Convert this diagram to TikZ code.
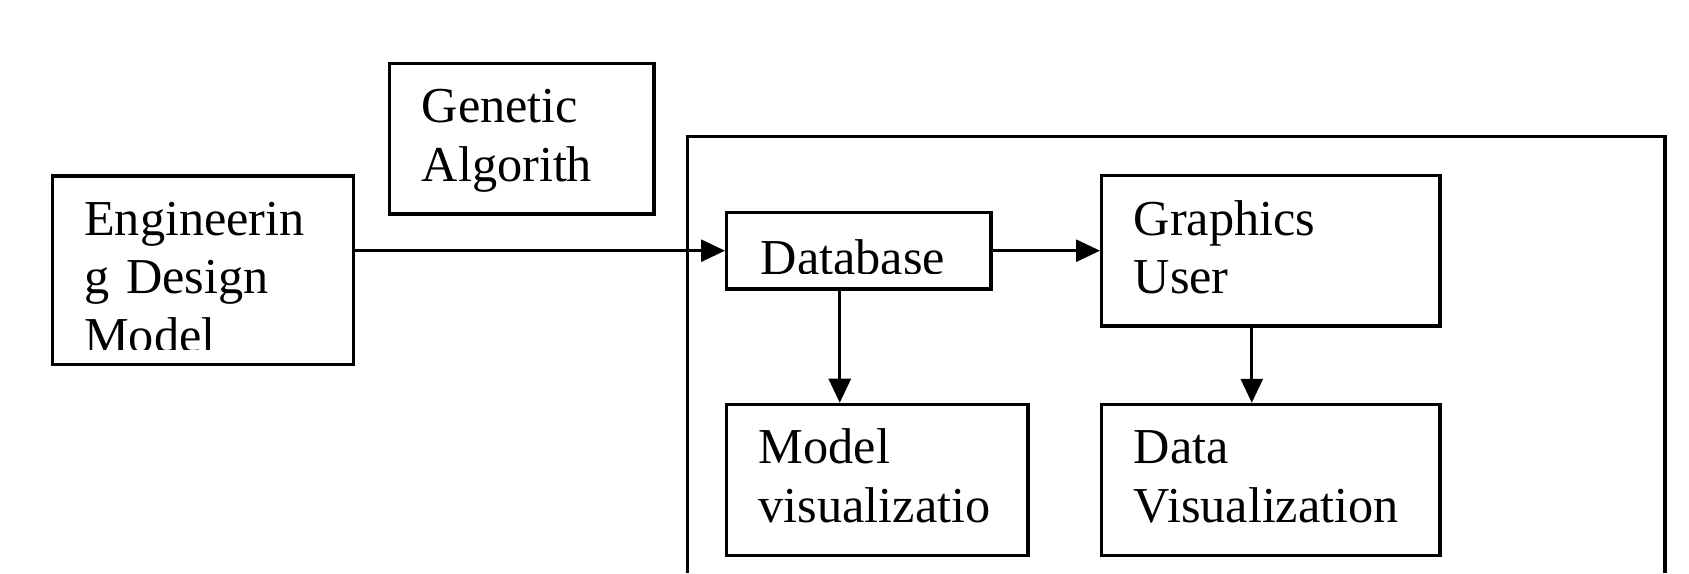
\documentclass[tikz,border=0pt]{standalone}
\usepackage{fontspec}
\setmainfont{Liberation Serif}
\usetikzlibrary{arrows.meta, positioning, calc}

\begin{document}
\begin{tikzpicture}[
    x=0.01cm, y=-0.01cm,
    box/.style={draw, line width=0.95pt, inner sep=0pt, anchor=north west},
    txt/.style={inner sep=0pt, anchor=base west, text width=3.2cm, align=left,
        font=\fontsize{14.3pt}{16.6pt}\selectfont},
    arr/.style={-{Triangle[length=2.4mm, width=2.2mm]}, line width=0.8pt},
]
    \useasboundingbox (0,0) rectangle (1689,573);

    \node[box, minimum width=3.01cm, minimum height=1.884cm] (eng) at (50.5,174.3) {};
    \node[box, minimum width=2.64cm, minimum height=1.506cm] (gen) at (388,61.7) {};
    \node[box, minimum width=2.64cm, minimum height=0.766cm] (db) at (725,210.7) {};
    \node[box, minimum width=3.38cm, minimum height=1.503cm] (gui) at (1100,174) {};
    \node[box, minimum width=3.01cm, minimum height=1.51cm,
        below=1.12cm of db.south west, anchor=north west] (modvis) {};
    \node[box, minimum width=3.38cm, minimum height=1.51cm, below=0.75cm of gui] (datavis) {};

    % texts sit at the top left of each box, cut off at the bottom inset
    \begin{scope}
        \clip (eng.north west) rectangle ($(eng.south east)+(0,-17)$);
        \node[txt] (engtxt) at ($(eng.north west)+(33,61)$) {Engineerin\\g Design\\Model};
    \end{scope}
    \node[txt] (gentxt) at ($(gen.north west)+(33,61)$) {Genetic\\Algorith};
    \begin{scope}
        \clip (db.north west) rectangle ($(db.south east)+(0,-17)$);
        \node[txt] (dbtxt) at ($(db.north west)+(35,64)$) {Database};
    \end{scope}
    \node[txt] (guitxt) at ($(gui.north west)+(33,61)$) {Graphics\\User};
    \node[txt] (modvistxt) at ($(modvis.north west)+(33,61)$) {Model\\visualizatio};
    \node[txt] (datavistxt) at ($(datavis.north west)+(33,61)$) {Data\\Visualization};

    % outer frame, open at the bottom
    \draw[line width=0.95pt] (687.5,573) |- (1665,136.5) -- (1665,573);

    \coordinate (dbout) at ($(db.south)+(-19,0)$);
    \coordinate (guiout) at ($(gui.south)+(-19,0)$);

    \draw[arr] (eng.east |- db.west) -- (db.west);
    \draw[arr] (db.east) -- (db.east -| gui.west);
    \draw[arr] (dbout) -- (dbout |- modvis.north);
    \draw[arr] (guiout) -- (guiout |- datavis.north);
\end{tikzpicture}
\end{document}
